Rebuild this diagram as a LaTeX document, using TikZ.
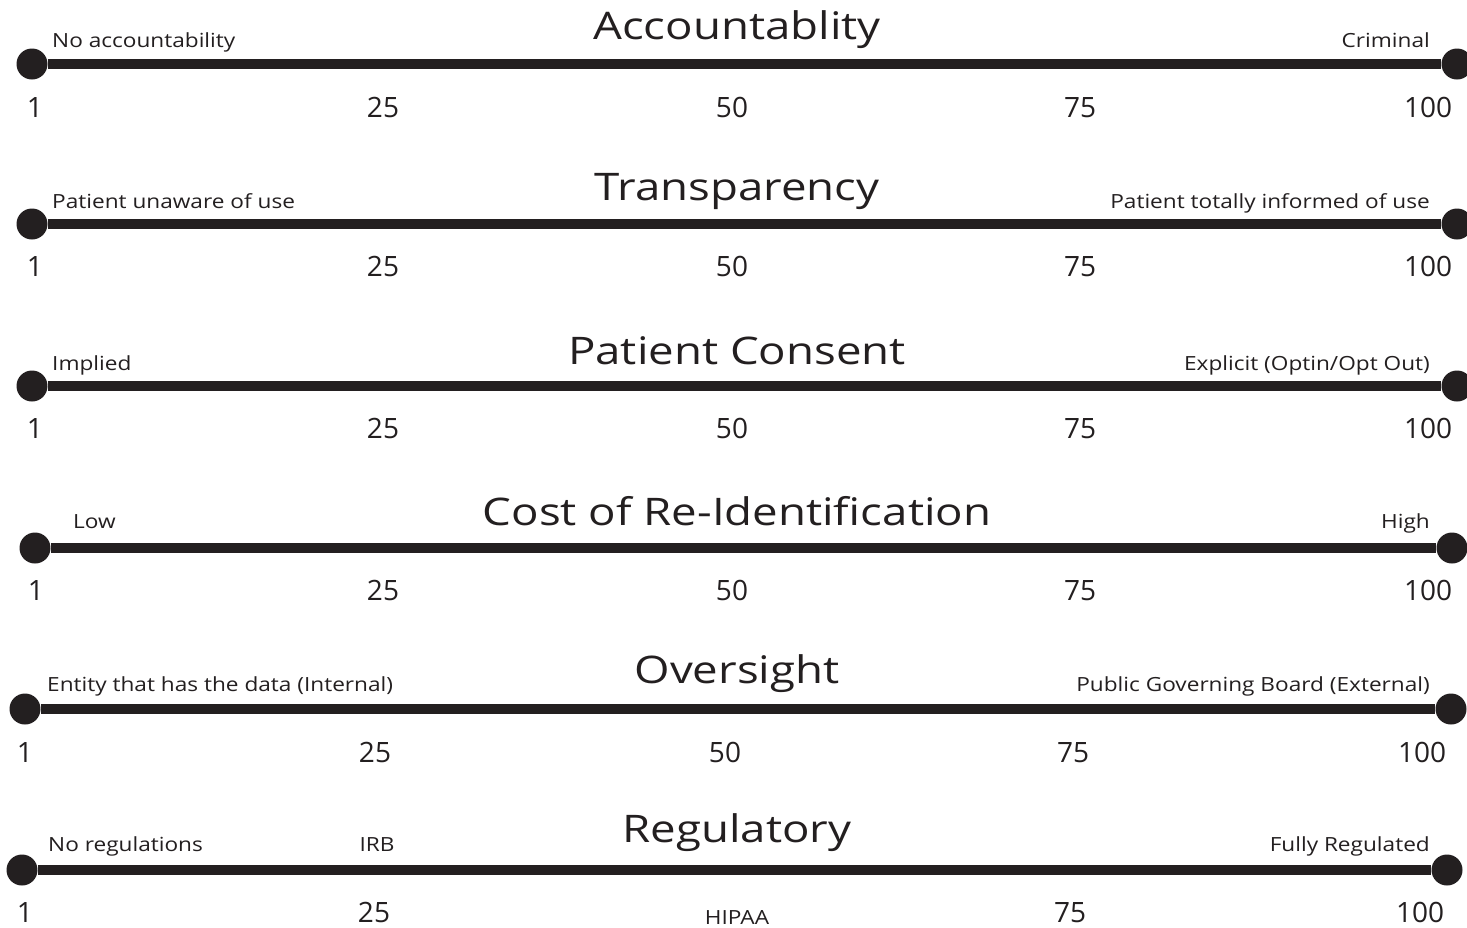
\documentclass[tikz,border=0pt]{standalone}
\usepackage{fontspec}
\setmainfont{Open Sans}
\newfontfamily\headfont{Open Sans}[FakeStretch=1.2]
\newfontfamily\labelfont{Open Sans}[FakeStretch=1.16]
\usetikzlibrary{positioning}
\definecolor{ink}{HTML}{231F20}

\begin{document}
\begin{tikzpicture}[x=1pt, y=-1pt, color=ink,
		enddot/.style = {circle, fill=ink, inner sep=0pt, minimum size=31pt},
		bar/.style = {line width=10.5pt, ink},
		heading/.style = {anchor=base, inner sep=0pt, font=\headfont\fontsize{38}{40}\selectfont},
		endlabel/.style = {inner sep=0pt, font=\labelfont\fontsize{19.5}{22}\selectfont},
		tick/.style = {anchor=base, inner sep=0pt, font=\fontsize{28}{30}\selectfont}
	]
	\useasboundingbox[fill=white] (0,0) rectangle (1467,927);
	% accountability
	\node[enddot] (a1) at (32,64) {};
	\node[enddot] (b1) at (1457,64) {};
	\draw[bar] (a1) -- (b1);
	\node[heading] (t1) at (737,39) {Accountablity};
	\node[endlabel, anchor=base west] (l1) at (52,47) {No accountability};
	\node[endlabel, anchor=base east] (r1) at (1430,47) {Criminal};
	\foreach \n/\x in {1/35,25/383,50/732,75/1080,100/1428} {\node[tick] (n1-\n) at (\x,117) {\n};}
	% transparency
	\node[enddot] (a2) at (32,224) {};
	\node[enddot] (b2) at (1457,224) {};
	\draw[bar] (a2) -- (b2);
	\node[heading] (t2) at (737,200) {Transparency};
	\node[endlabel, anchor=base west] (l2) at (52,208) {Patient unaware of use};
	\node[endlabel, anchor=base east] (r2) at (1430,208) {Patient totally informed of use};
	\foreach \n/\x in {1/35,25/383,50/732,75/1080,100/1428} {\node[tick] (n2-\n) at (\x,276) {\n};}
	% consent
	\node[enddot] (a3) at (32,386) {};
	\node[enddot] (b3) at (1457,386) {};
	\draw[bar] (a3) -- (b3);
	\node[heading] (t3) at (737,364) {Patient Consent};
	\node[endlabel, anchor=base west] (l3) at (52,370) {Implied};
	\node[endlabel, anchor=base east] (r3) at (1430,370) {Explicit (Optin/Opt Out)};
	\foreach \n/\x in {1/35,25/383,50/732,75/1080,100/1428} {\node[tick] (n3-\n) at (\x,438) {\n};}
	% re-identification
	\node[enddot] (a4) at (35,548) {};
	\node[enddot] (b4) at (1452,548) {};
	\draw[bar] (a4) -- (b4);
	\node[heading] (t4) at (737,525) {Cost of Re-Identification};
	\node[endlabel, anchor=base west] (l4) at (73,528) {Low};
	\node[endlabel, anchor=base east] (r4) at (1430,528) {High};
	\foreach \n/\x in {1/36,25/383,50/732,75/1080,100/1428} {\node[tick] (n4-\n) at (\x,600) {\n};}
	% oversight
	\node[enddot] (a5) at (25,709) {};
	\node[enddot] (b5) at (1451,709) {};
	\draw[bar] (a5) -- (b5);
	\node[heading] (t5) at (737,683) {Oversight};
	\node[endlabel, anchor=base west] (l5) at (47,691) {Entity that has the data (Internal)};
	\node[endlabel, anchor=base east] (r5) at (1430,691) {Public Governing Board (External)};
	\foreach \n/\x in {1/25,25/375,50/725,75/1073,100/1422} {\node[tick] (n5-\n) at (\x,762) {\n};}
	% regulatory
	\node[enddot] (a6) at (22,870) {};
	\node[enddot] (b6) at (1447,870) {};
	\draw[bar] (a6) -- (b6);
	\node[heading] (t6) at (737,842) {Regulatory};
	\node[endlabel, anchor=base west] (l6) at (48,851) {No regulations};
	\node[endlabel, anchor=base] (m6) at (377,851) {IRB};
	\node[endlabel, anchor=base east] (r6) at (1430,851) {Fully Regulated};
	\foreach \n/\x in {1/25,25/374,75/1070,100/1420} {\node[tick] (n6-\n) at (\x,922) {\n};}
	\node[endlabel, anchor=base] (h6) at (737,924) {HIPAA};
\end{tikzpicture}
\end{document}
